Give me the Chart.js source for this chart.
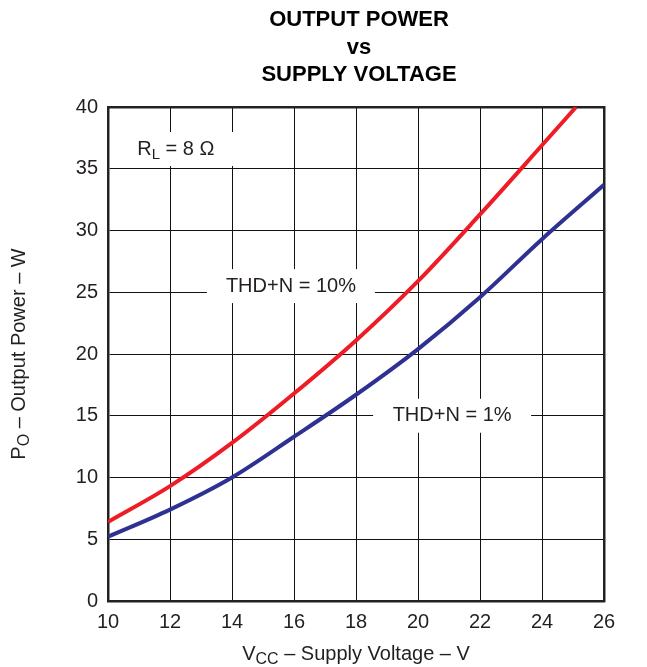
<!DOCTYPE html>
<html>
<head>
<meta charset="utf-8">
<script src="https://cdn.jsdelivr.net/npm/chart.js@4"></script>
<style>
  body { margin: 0; background: #fff; }
  #wrap { width: 647px; height: 667px; position: relative; }
</style>
</head>
<body>
<div id="wrap"><canvas id="powerChart"></canvas></div>
<script>
// values
const xTicks = [10, 12, 14, 16, 18, 20, 22, 24, 26];
const yTicks = [0, 5, 10, 15, 20, 25, 30, 35, 40];

const voltage10 = [10, 12, 14, 16, 18, 20, 22, 24, 25.1];
const power10 = [6.4, 9.3, 12.8, 16.8, 21.1, 25.9, 31.3, 36.9, 40];

const voltage1 = [10, 12, 14, 16, 18, 20, 22, 24, 26];
const power1 = [5.2, 7.4, 10.0, 13.3, 16.7, 20.4, 24.6, 29.3, 33.7];

const FONT = "'Liberation Sans', Arial, sans-serif";
const TEXT = "#231f20";

// text boxes inside the plot (data coords of centre, half sizes in px)
const notes = [
  { text: "THD+N = 10%", x: 15.9, y: 25.5, hw: 84, hh: 17 },
  { text: "THD+N = 1%", x: 21.1, y: 15.0, hw: 79, hh: 17 },
];

const labelsPlugin = {
  id: "labels",
  beforeDatasetsDraw(chart) {
    const { ctx, scales } = chart;
    const x = scales.x, y = scales.y;
    ctx.save();
    ctx.fillStyle = "#fff";
    // white patches that break the grid lines
    notes.forEach((n) => {
      const cx = x.getPixelForValue(n.x), cy = y.getPixelForValue(n.y);
      ctx.fillRect(cx - n.hw, cy - n.hh, n.hw * 2, n.hh * 2);
    });
    const rx = x.getPixelForValue(12.2), ry = y.getPixelForValue(36.6);
    ctx.fillRect(rx - 58, ry - 17, 116, 34);

    ctx.fillStyle = TEXT;
    ctx.textBaseline = "middle";
    ctx.textAlign = "center";
    ctx.font = "20px " + FONT;
    notes.forEach((n) => {
      ctx.fillText(n.text, x.getPixelForValue(n.x), y.getPixelForValue(n.y));
    });

    // R_L = 8 Ω
    ctx.textAlign = "left";
    let px = rx - 39;
    ctx.fillText("R", px, ry);
    px += ctx.measureText("R").width;
    ctx.font = "15px " + FONT;
    ctx.fillText("L", px, ry + 6);
    px += ctx.measureText("L").width;
    ctx.font = "20px " + FONT;
    ctx.fillText(" = 8 Ω", px, ry);
    ctx.restore();
  },
  afterDraw(chart) {
    const { ctx, chartArea } = chart;
    ctx.save();
    ctx.fillStyle = "#000";
    ctx.textAlign = "center";
    ctx.textBaseline = "middle";
    ctx.font = "bold 22px " + FONT;
    const tx = 359;
    ctx.fillText("OUTPUT POWER", tx, 20);
    ctx.fillText("vs", tx, 48);
    ctx.fillText("SUPPLY VOLTAGE", tx, 75);

    // x axis title with subscript
    ctx.fillStyle = TEXT;
    ctx.textAlign = "left";
    ctx.font = "20px " + FONT;
    const rest = " – Supply Voltage – V";
    const wV = ctx.measureText("V").width;
    const wRest = ctx.measureText(rest).width;
    ctx.font = "16px " + FONT;
    const wCC = ctx.measureText("CC").width;
    let sx = (chartArea.left + chartArea.right) / 2 - (wV + wCC + wRest) / 2;
    const sy = 654;
    ctx.font = "20px " + FONT;
    ctx.fillText("V", sx, sy);
    sx += wV;
    ctx.font = "16px " + FONT;
    ctx.fillText("CC", sx, sy + 6);
    sx += wCC;
    ctx.font = "20px " + FONT;
    ctx.fillText(rest, sx, sy);

    // y axis title, rotated
    ctx.translate(19, (chartArea.top + chartArea.bottom) / 2);
    ctx.rotate(-Math.PI / 2);
    const yRest = " – Output Power – W";
    ctx.font = "20px " + FONT;
    const wP = ctx.measureText("P").width;
    const wYRest = ctx.measureText(yRest).width;
    ctx.font = "16px " + FONT;
    const wO = ctx.measureText("O").width;
    let ox = -(wP + wO + wYRest) / 2;
    ctx.font = "20px " + FONT;
    ctx.fillText("P", ox, 0);
    ox += wP;
    ctx.font = "16px " + FONT;
    ctx.fillText("O", ox, 6);
    ox += wO;
    ctx.font = "20px " + FONT;
    ctx.fillText(yRest, ox, 0);
    ctx.restore();
  },
};

new Chart(document.getElementById("powerChart"), {
  type: "line",
  data: {
    datasets: [
      {
        label: "THD+N = 10%",
        data: voltage10.map((v, i) => ({ x: v, y: power10[i] })),
        borderColor: "#ee1c25",
        borderWidth: 4,
        pointRadius: 0,
        cubicInterpolationMode: "monotone",
        clip: 0,
      },
      {
        label: "THD+N = 1%",
        data: voltage1.map((v, i) => ({ x: v, y: power1[i] })),
        borderColor: "#2e3192",
        borderWidth: 4,
        pointRadius: 0,
        cubicInterpolationMode: "monotone",
        clip: 0,
      },
    ],
  },
  options: {
    responsive: true,
    maintainAspectRatio: false,
    animation: false,
    layout: { padding: { top: 107, right: 43, left: 0, bottom: 0 } },
    plugins: {
      legend: { display: false },
      tooltip: { enabled: false },
    },
    scales: {
      x: {
        type: "linear",
        min: 10,
        max: 26,
        afterBuildTicks: (s) => { s.ticks = xTicks.map((v) => ({ value: v })); },
        afterFit: (s) => { s.height = 66; },
        grid: { color: "#111", lineWidth: 1, drawTicks: false },
        border: { color: "#222", width: 2.5 },
        ticks: { color: TEXT, font: { family: FONT, size: 20 }, padding: 9 },
      },
      y: {
        min: 0,
        max: 40,
        afterBuildTicks: (s) => { s.ticks = yTicks.map((v) => ({ value: v })); },
        afterFit: (s) => { s.width = 108; },
        grid: { color: "#111", lineWidth: 1, drawTicks: false },
        border: { color: "#222", width: 2.5 },
        ticks: { color: TEXT, font: { family: FONT, size: 20 }, padding: 10 },
      },
      x2: {
        type: "linear",
        position: "top",
        min: 10,
        max: 26,
        display: true,
        afterFit: (s) => { s.height = 0; },
        grid: { display: false, drawTicks: false },
        border: { color: "#222", width: 2.5 },
        ticks: { display: false },
      },
      y2: {
        position: "right",
        min: 0,
        max: 40,
        display: true,
        afterFit: (s) => { s.width = 0; },
        grid: { display: false, drawTicks: false },
        border: { color: "#222", width: 2.5 },
        ticks: { display: false },
      },
    },
  },
  plugins: [labelsPlugin],
});
</script>
</body>
</html>
